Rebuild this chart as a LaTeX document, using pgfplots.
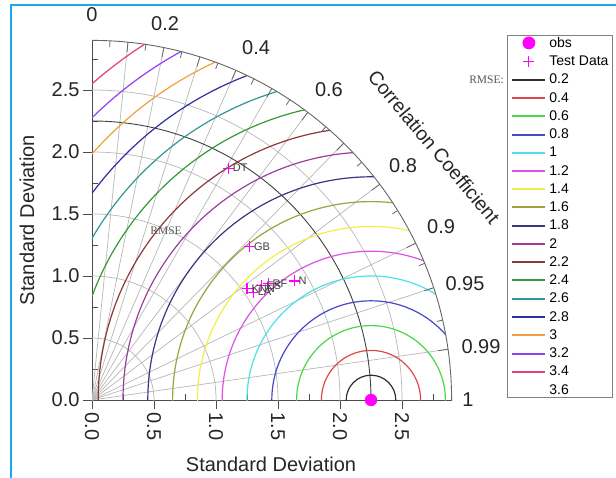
\documentclass[border=0pt]{standalone}
\usepackage{pgfplots}
\pgfplotsset{compat=1.18}
\usepackage{fontspec}
\setmainfont{Liberation Sans}
\newfontfamily\seriffont{Liberation Serif}
\definecolor{obsmag}{HTML}{FF00FF}
\definecolor{r02}{HTML}{303030}
\definecolor{r04}{HTML}{E04848}
\definecolor{r06}{HTML}{48D848}
\definecolor{r08}{HTML}{4848C8}
\definecolor{r10}{HTML}{50E0E8}
\definecolor{r12}{HTML}{E050E8}
\definecolor{r14}{HTML}{F0F048}
\definecolor{r16}{HTML}{A0A040}
\definecolor{r18}{HTML}{38387F}
\definecolor{r20}{HTML}{9A409A}
\definecolor{r22}{HTML}{903838}
\definecolor{r24}{HTML}{389838}
\definecolor{r26}{HTML}{309898}
\definecolor{r28}{HTML}{3030A0}
\definecolor{r30}{HTML}{F0A040}
\definecolor{r32}{HTML}{9040F0}
\definecolor{r34}{HTML}{E04080}
\definecolor{frameblue}{HTML}{19A9EC}
\definecolor{gridgray}{HTML}{B8B8B8}
\begin{document}
\begin{tikzpicture}
\useasboundingbox (0pt,0pt) rectangle (616pt,477pt);
\fill[white] (0pt,0pt) rectangle (616pt,477pt);
\draw[frameblue, line width=2pt] (11pt,-2pt) -- (11pt,471.5pt) -- (620pt,471.5pt);
\begin{axis}[
  at={(92pt,77pt)}, anchor=origin,
  x=124pt, y=124pt,
  xmin=0, xmax=2.9, ymin=0, ymax=2.9,
  axis lines=left,
  axis line style={-, draw=black!70, line width=0.8pt},
  clip=false,
  tick align=outside,
  major tick length=9pt,
  tick style={black!70, line width=0.8pt},
  xtick={0,0.5,1,1.5,2,2.5}, ytick={0,0.5,1,1.5,2,2.5},
  xticklabels={0.0,0.5,1.0,1.5,2.0,2.5},
  yticklabels={0.0,0.5,1.0,1.5,2.0,2.5},
  minor tick num=0,
  extra x ticks={0.25,0.75,1.25,1.75,2.25,2.75},
  extra y ticks={0.25,0.75,1.25,1.75,2.25,2.75},
  extra x tick labels={}, extra y tick labels={},
  extra tick style={tick align=inside, major tick length=6pt},
  xticklabel style={rotate=-90, anchor=west, font=\fontsize{20}{24}\selectfont, text=black!85},
  yticklabel style={font=\fontsize{20}{24}\selectfont, text=black!85},
  legend cell align=left,
  legend image code/.code={\draw[mark repeat=2,mark phase=2,#1] plot coordinates {(0pt,0pt) (16.5pt,0pt) (33pt,0pt)}; \path[draw=none] (0pt,-5pt) -- (0pt,5pt);},
  legend style={at={(1.1554,1.015)}, anchor=north west, draw=black!50, line width=0.8pt,
    font=\fontsize{14}{16}\selectfont, inner xsep=3.5pt, inner ysep=1.5pt, row sep=7pt,
    nodes={inner sep=0pt},
    /tikz/every odd column/.style={column sep=3pt}},
]
% std arcs, radial lines, RMSE circles clipped to the quarter disc
\begin{scope}
\clip (axis cs:0,0) rectangle (axis cs:2.9,2.9);
\clip (axis cs:0,0) circle[radius=2.9];
\foreach \s in {0.5,1,1.5,2,2.5} {\edef\temp{\noexpand\draw[gridgray, line width=0.7pt] (axis cs:0,0) circle[radius=\s];}\temp}
\foreach \c in {0.1,0.2,0.3,0.4,0.5,0.6,0.7,0.8,0.9,0.95,0.99} {\edef\temp{\noexpand\draw[gridgray, line width=0.7pt] (axis cs:0,0) -- (axis cs:{2.9*\c},{2.9*sqrt(1-\c*\c)});}\temp}
\draw[black!75, line width=0.9pt] (axis cs:0,0) circle[radius=2.25];
\foreach \r/\col in {0.2/r02,0.4/r04,0.6/r06,0.8/r08,1/r10,1.2/r12,1.4/r14,1.6/r16,1.8/r18,2/r20,2.2/r22,2.4/r24,2.6/r26,2.8/r28,3/r30,3.2/r32,3.4/r34} {\edef\temp{\noexpand\draw[\col, line width=1.2pt] (axis cs:2.25,0) circle[radius=\r];}\temp}
\end{scope}
% outer arc
\begin{scope}
\clip (axis cs:0,0) rectangle (axis cs:3,3);
\draw[black!60, line width=0.9pt] (axis cs:0,0) circle[radius=2.9];
\end{scope}
% ticks on the outer arc
\foreach \c in {0.1,0.2,0.3,0.4,0.5,0.6,0.7,0.8,0.9,0.95,0.99} {\edef\temp{\noexpand\draw[black!60, line width=0.8pt] (axis cs:{2.9*\c},{2.9*sqrt(1-\c*\c)}) -- (axis cs:{2.82*\c},{2.82*sqrt(1-\c*\c)});}\temp}
\foreach \c in {0.05,0.15,0.25,0.35,0.45,0.55,0.65,0.75,0.85,0.925,0.975} {\edef\temp{\noexpand\draw[black!60, line width=0.8pt] (axis cs:{2.9*\c},{2.9*sqrt(1-\c*\c)}) -- (axis cs:{2.85*\c},{2.85*sqrt(1-\c*\c)});}\temp}
% correlation labels
\foreach \x/\y/\t in {0/3.105/0,0.589/3.032/0.2,1.323/2.839/0.4,1.911/2.500/0.6,2.508/1.887/0.8,2.815/1.395/0.9,3.008/0.935/0.95,3.137/0.427/0.99,3.032/0/1} {\edef\temp{\noexpand\node[font=\noexpand\fontsize{20}{24}\noexpand\selectfont, text=black!85, inner sep=0pt] at (axis cs:\x,\y) {\t};}\temp}
\node[font=\seriffont\fontsize{11.5}{12}\selectfont, text=black!65, inner sep=0pt] at (axis cs:0.597,1.363) {RMSE};
% data
\addplot[only marks, mark=*, mark size=6pt, color=obsmag] coordinates {(2.25,0)};
\addlegendentry{obs}
\addplot[only marks, mark=+, mark size=5.5pt, color=obsmag, line width=1.1pt,
  nodes near coords, point meta=explicit symbolic,
  every node near coord/.append style={anchor=west, font=\fontsize{11}{12}\selectfont, text=black!75, inner sep=1pt, xshift=3pt}]
  coordinates {(1.10,1.87)[DT] (1.27,1.24)[GB] (1.63,0.96)[N] (1.42,0.94)[RF] (1.37,0.92)[ES] (1.30,0.87)[LA] (1.25,0.90)[KNN]};
\addlegendentry{Test Data}
\addlegendimage{r02, line width=2pt}\addlegendentry{0.2}
\addlegendimage{r04, line width=2pt}\addlegendentry{0.4}
\addlegendimage{r06, line width=2pt}\addlegendentry{0.6}
\addlegendimage{r08, line width=2pt}\addlegendentry{0.8}
\addlegendimage{r10, line width=2pt}\addlegendentry{1}
\addlegendimage{r12, line width=2pt}\addlegendentry{1.2}
\addlegendimage{r14, line width=2pt}\addlegendentry{1.4}
\addlegendimage{r16, line width=2pt}\addlegendentry{1.6}
\addlegendimage{r18, line width=2pt}\addlegendentry{1.8}
\addlegendimage{r20, line width=2pt}\addlegendentry{2}
\addlegendimage{r22, line width=2pt}\addlegendentry{2.2}
\addlegendimage{r24, line width=2pt}\addlegendentry{2.4}
\addlegendimage{r26, line width=2pt}\addlegendentry{2.6}
\addlegendimage{r28, line width=2pt}\addlegendentry{2.8}
\addlegendimage{r30, line width=2pt}\addlegendentry{3}
\addlegendimage{r32, line width=2pt}\addlegendentry{3.2}
\addlegendimage{r34, line width=2pt}\addlegendentry{3.4}
\addlegendimage{white, line width=2pt}\addlegendentry{3.6}
\end{axis}
\node[anchor=east, font=\seriffont\fontsize{11.5}{12}\selectfont, text=black!65, inner sep=0pt] at (504pt,397pt) {RMSE:};
\node[rotate=90, font=\fontsize{20}{24}\selectfont, text=black!85] at (27pt,257pt) {Standard Deviation};
\node[font=\fontsize{20}{24}\selectfont, text=black!85] at (271pt,13pt) {Standard Deviation};
\node[rotate=-50, font=\fontsize{19.5}{24}\selectfont, text=black!85] at (434pt,330pt) {Correlation Coefficient};
\end{tikzpicture}
\end{document}
